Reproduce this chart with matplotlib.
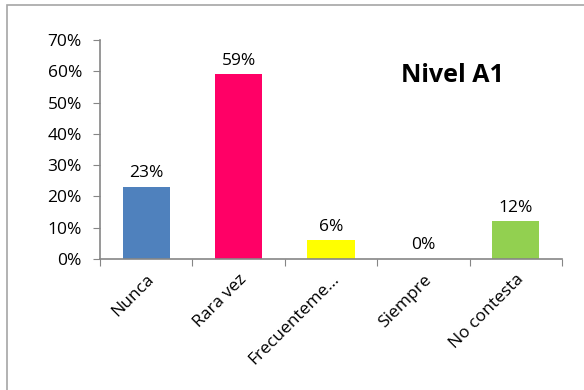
import matplotlib
matplotlib.use("Agg")
import matplotlib.pyplot as plt
import matplotlib.patches as patches

categorias = ["Nunca", "Rara vez", "Frecuenteme...", "Siempre", "No contesta"]
valores = [23, 59, 6, 0, 12]
colores = ["#4F81BD", "#FF0066", "#FFFF00", "#FFFFFF", "#92D050"]
yticks = [0, 10, 20, 30, 40, 50, 60, 70]

plt.rcParams['font.family'] = ['Open Sans', 'DejaVu Sans']

fig = plt.figure(figsize=(5.84, 3.9), dpi=100)
ax = fig.add_axes([100/584, 1-259/390, 462/584, 219/390])

# marco del gráfico (solo se ven bordes superior e izquierdo)
fig.patches.append(patches.Rectangle((7/584, -0.1), 1.2, 1-5/390+0.1,
                                     transform=fig.transFigure, fill=False,
                                     edgecolor="#A6A6A6", linewidth=1.2))

x = list(range(len(categorias)))
ax.bar(x, valores, width=0.51, color=colores)
ax.set_xlim(-0.5, len(categorias)-0.5)
ax.set_ylim(0, 70)

# etiquetas de valores
for xi, v in zip(x, valores):
    ax.annotate(str(v) + '%', xy=(xi, v), xytext=(0, 4), textcoords='offset points',
                ha='center', va='bottom', fontsize=12.5)

ax.set_yticks(yticks)
ax.set_yticklabels([str(t) + '%' for t in yticks], fontsize=12.5)
ax.set_xticks([i + 0.5 for i in range(-1, len(categorias))], minor=False)
ax.set_xticklabels([])
ax.set_xticks(x, minor=True)
ax.set_xticklabels(categorias, minor=True, rotation=45, ha='right',
                   rotation_mode='anchor', fontsize=12.5)
ax.tick_params(axis='x', which='minor', length=0, pad=9)
ax.tick_params(axis='x', which='major', length=5, color='#868686')
ax.tick_params(axis='y', length=5, color='#868686', pad=8)

for s in ['top', 'right']:
    ax.spines[s].set_visible(False)
for s in ['left', 'bottom']:
    ax.spines[s].set_color('#868686')
    ax.spines[s].set_linewidth(1.2)

ax.text(0.762, 0.84, 'Nivel A1', transform=ax.transAxes, ha='center', va='center',
        fontsize=18, fontweight='bold')

fig.savefig("out.png", dpi=100)
